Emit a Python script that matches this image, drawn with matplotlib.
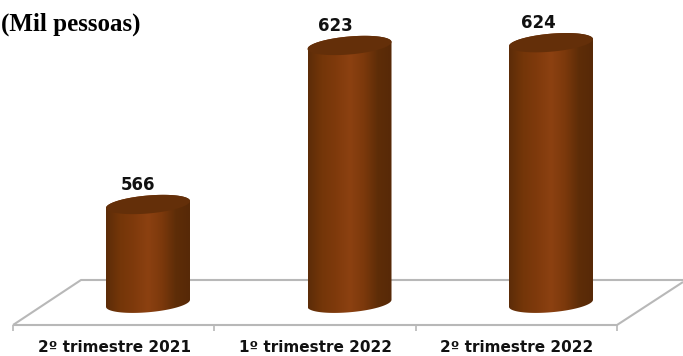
import numpy as np
import matplotlib
matplotlib.use("Agg")
import matplotlib.pyplot as plt
from matplotlib.colors import LinearSegmentedColormap
from matplotlib.patches import Polygon

categories = ["2º trimestre 2021", "1º trimestre 2022", "2º trimestre 2022"]
values = [566, 623, 624]
label_shift = [-10, -14, -13]

W, H = 683, 356
BASE = 530.6
PX_X = 201.5   # pixels per category
PX_Y = 2.79    # pixels per person-thousand

fig = plt.figure(figsize=(W / 100, H / 100), dpi=100)
ax = fig.add_axes([0, 0, 1, 1])
x_min = -148 / PX_X
y_top = 566 + 204.5 / PX_Y
ax.set_xlim(x_min, x_min + W / PX_X)
ax.set_ylim(y_top - H / PX_Y, y_top)
ax.axis("off")


def px(x, y):
    # reference pixel position to data position
    return x_min + x / PX_X, y_top - y / PX_Y


def gray_line(xs, ys, lw=1.5):
    p = [px(a, b) for a, b in zip(xs, ys)]
    ax.plot([q[0] for q in p], [q[1] for q in p], color="#b8b8b8", lw=lw, zorder=1,
            solid_capstyle="butt")


# floor of the 3d chart
gray_line([13, 81, 683], [325, 280, 280])
gray_line([13, 617, 683], [325, 325, 282])
for tx in [13, 214, 416, 617]:
    gray_line([tx, tx], [325, 331], lw=1.2)

cmap = LinearSegmentedColormap.from_list(
    "cyl", ["#5c2c08", "#743609", "#7f3a0c", "#8c4111", "#7c390c", "#5e2d08", "#572907"])
half_w = 42 / PX_X
half_h = 9 / PX_Y
tilt = 3.5 / PX_Y
t = np.linspace(0, 2 * np.pi, 120)

for i, v in enumerate(values):
    # bottom half of the base ellipse, then back up along the top one
    tb = np.linspace(np.pi, 2 * np.pi, 60)
    bx = i + half_w * np.cos(tb)
    by = BASE + half_h * np.sin(tb) + tilt * np.cos(tb)
    tt = np.linspace(0, np.pi, 60)
    ux = i + half_w * np.cos(tt)
    uy = v + half_h * np.sin(tt) + tilt * np.cos(tt)
    body = Polygon(np.column_stack([np.r_[bx, ux], np.r_[by, uy]]), closed=True,
                   fc="none", ec="none", transform=ax.transData)
    ax.add_patch(body)
    grad = np.linspace(0, 1, 256).reshape(1, -1)
    im = ax.imshow(grad, cmap=cmap, aspect="auto", zorder=2, interpolation="bilinear",
                   extent=[i - half_w, i + half_w, BASE - 3 * half_h, v + 2 * half_h])
    im.set_clip_path(body)
    cx = i + half_w * np.cos(t)
    cy = v + half_h * np.sin(t) + tilt * np.cos(t)
    ax.fill(cx, cy, color="#642f09", zorder=3, lw=0)
    ax.text(i + label_shift[i] / PX_X, v + 19.5 / PX_Y, str(v), ha="center", va="center",
            fontsize=12, fontweight="bold", family="DejaVu Sans", color="#111111", zorder=4)

# keep limits after imshow
ax.set_xlim(x_min, x_min + W / PX_X)
ax.set_ylim(y_top - H / PX_Y, y_top)

for i, c in enumerate(categories):
    ax.text(i - 34 / PX_X, px(0, 347)[1], c, ha="center", va="center",
            fontsize=11, fontweight="bold", family="DejaVu Sans", color="#111111")

tx, ty = px(1, 24)
ax.text(tx, ty, "(Mil pessoas)", ha="left", va="center", fontsize=18, fontweight="bold",
        family="Liberation Serif", color="black")

fig.savefig("out.png", dpi=100)
